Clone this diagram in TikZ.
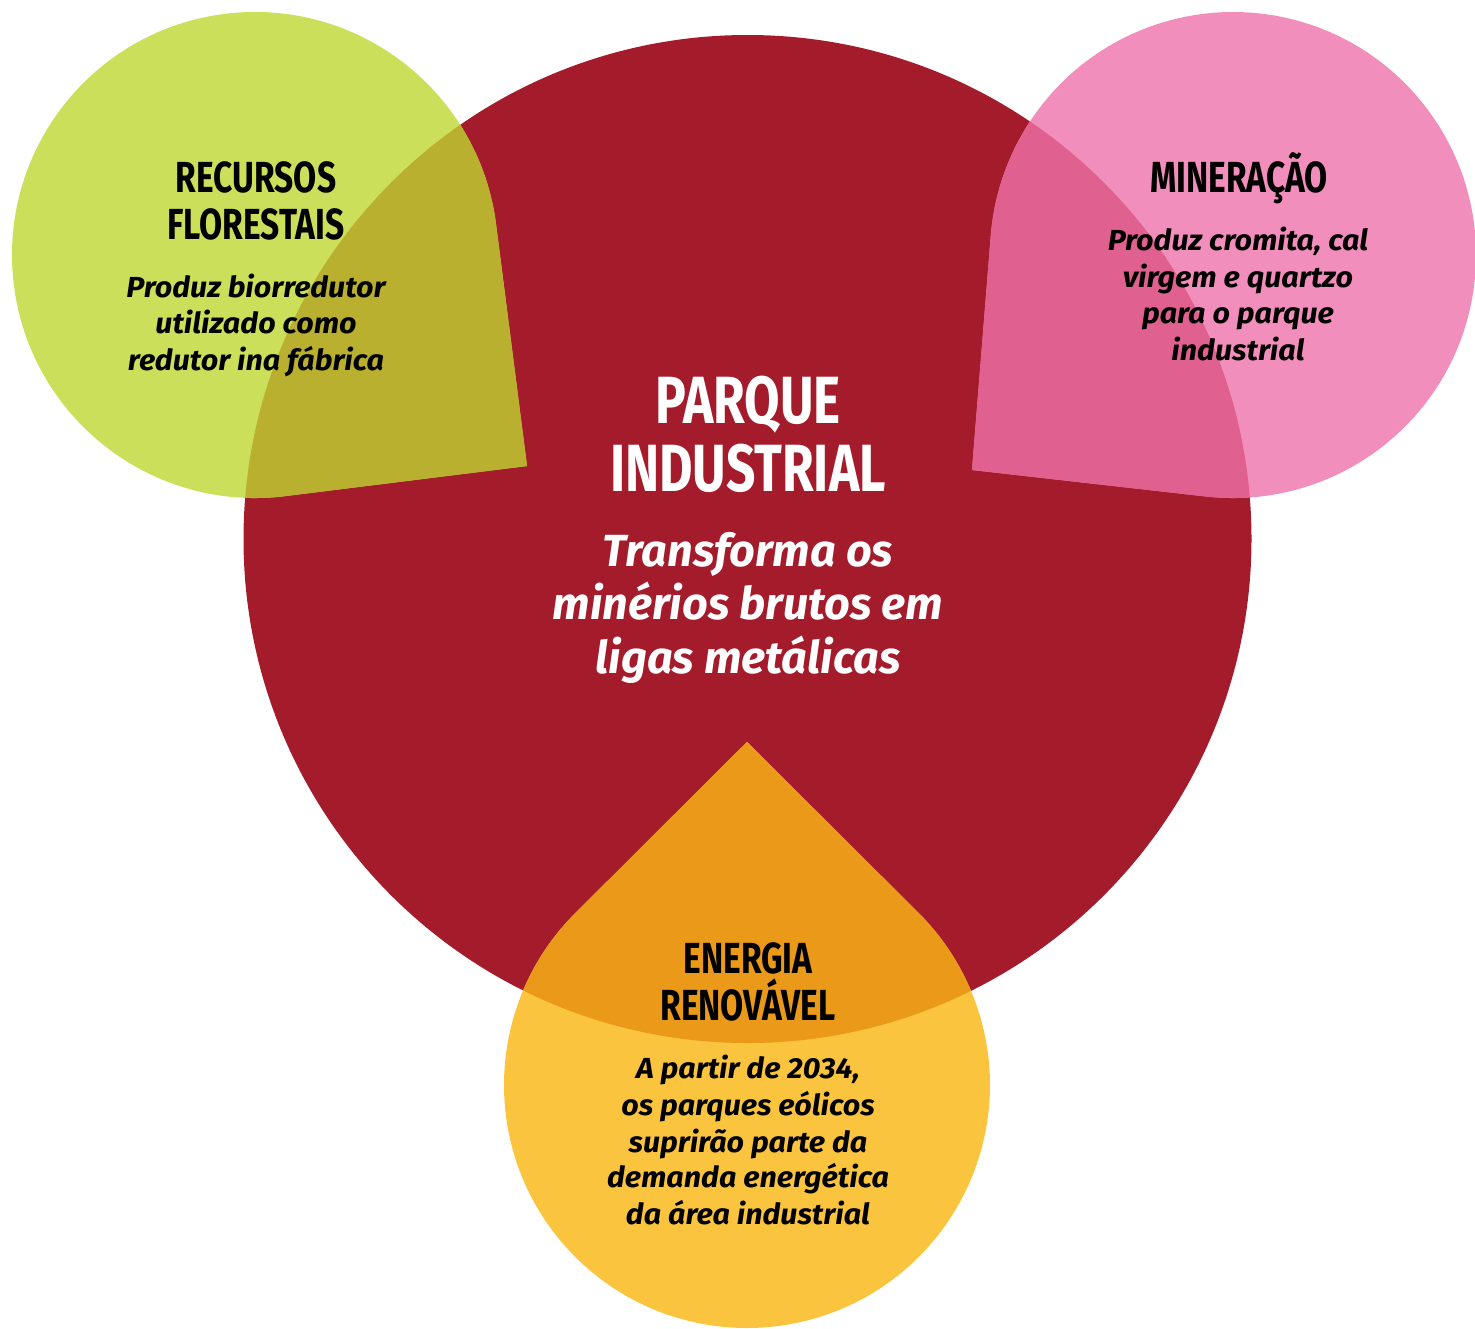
\documentclass[tikz,border=0pt]{standalone}
\usepackage{fontspec}
\usetikzlibrary{calc}
\setmainfont{Fira Sans}
\newfontfamily\headfont{Fira Sans}[FakeStretch=0.77]
\newfontfamily\bodyfont{Fira Sans}[FakeStretch=1.05]
\newfontfamily\bigbodyfont{Fira Sans}
\definecolor{cred}{RGB}{164,28,43}
\definecolor{cgreen}{RGB}{204,223,90}
\definecolor{colive}{RGB}{184,176,46}
\definecolor{cpink}{RGB}{242,142,187}
\definecolor{cpinkov}{RGB}{224,96,143}
\definecolor{cyellow}{RGB}{251,196,63}
\definecolor{corange}{RGB}{234,153,24}
\tikzset{
  head/.style={font=\headfont\bfseries\fontsize{43.5}{46}\selectfont, inner sep=0pt, anchor=base, text=black},
  bighead/.style={font=\headfont\bfseries\fontsize{66.8}{68}\selectfont, inner sep=0pt, anchor=base, text=white},
  body/.style={font=\bodyfont\bfseries\itshape\fontsize{29}{36}\selectfont, inner sep=0pt, anchor=base, text=black},
  bigbody/.style={font=\bigbodyfont\bfseries\itshape\fontsize{45}{53}\selectfont, inner sep=0pt, anchor=base, text=white}
}
\def\greendrop{(527,-466) -- ($(255,-255)+(7.3:243)$) arc[start angle=7.3, end angle=277.1, radius=243] -- cycle}
\def\pinkdrop{(972,-470) -- ($(1233,-255)+(263.6:243)$) arc[start angle=263.6, end angle=535.4, radius=243] -- cycle}
\def\yellowdrop{(747,-742) -- ($(747,-1085)+(134.9:243)$) arc[start angle=134.9, end angle=405.1, radius=243] -- cycle}
\begin{document}
\begin{tikzpicture}[x=1pt,y=1pt]
\useasboundingbox (0,0) rectangle (1475,-1328);
\clip (0,0) rectangle (1475,-1328);
% big circle
\fill[cred] (747.5,-539) circle[radius=504];
% drops
\fill[cgreen] \greendrop;
\fill[cpink] \pinkdrop;
\fill[cyellow] \yellowdrop;
\begin{scope}
\clip (747.5,-539) circle[radius=504];
\fill[colive] \greendrop;
\fill[cpinkov] \pinkdrop;
\fill[corange] \yellowdrop;
\end{scope}
% green texts
\node[head] (g1) at (256,-192) {RECURSOS};
\node[head] (g2) at (256,-239) {FLORESTAIS};
\node[body] (g3) at (256,-297) {Produz biorredutor};
\node[body] (g4) at (256,-333) {utilizado como};
\node[body] (g5) at (256,-370) {redutor ina fábrica};
% pink texts
\node[head] (p1) at (1239,-192) {MINERAÇÃO};
\node[body] (p2) at (1238,-250) {Produz cromita, cal};
\node[body] (p3) at (1238,-287) {virgem e quartzo};
\node[body] (p4) at (1238,-323) {para o parque};
\node[body] (p5) at (1238,-360) {industrial};
% central texts
\node[bighead] (c1) at (748,-423) {PARQUE};
\node[bighead] (c2) at (748,-491) {INDUSTRIAL};
\node[bigbody] (c3) at (748,-566) {Transforma os};
\node[bigbody] (c4) at (748,-619) {minérios brutos em};
\node[bigbody] (c5) at (748,-673) {ligas metálicas};
% yellow texts
\node[head] (y1) at (748,-973) {ENERGIA};
\node[head] (y2) at (748,-1020) {RENOVÁVEL};
\node[body] (y3) at (748,-1078) {A partir de 2034,};
\node[body] (y4) at (748,-1115) {os parques eólicos};
\node[body] (y5) at (748,-1152) {suprirão parte da};
\node[body] (y6) at (748,-1187) {demanda energética};
\node[body] (y7) at (748,-1224) {da área industrial};
\end{tikzpicture}
\end{document}
